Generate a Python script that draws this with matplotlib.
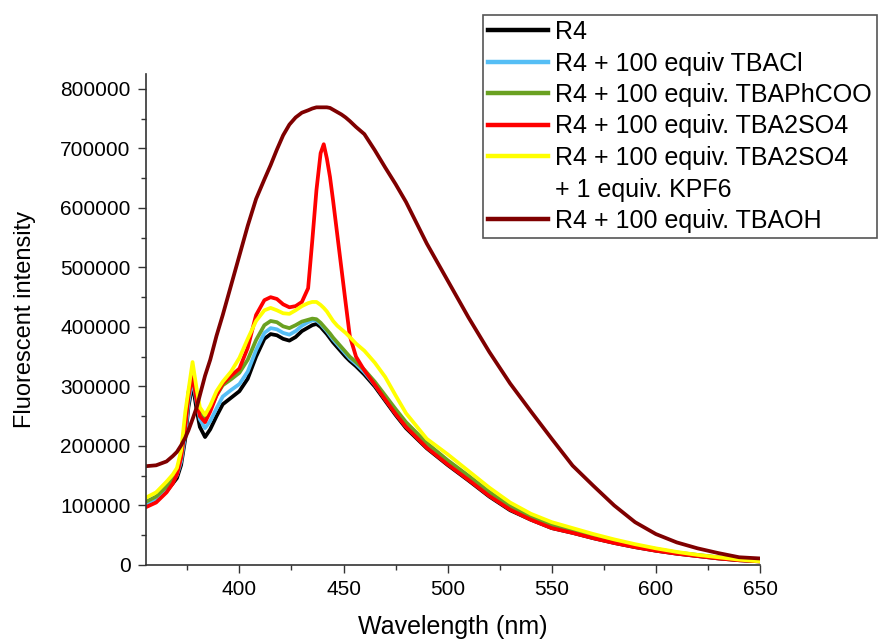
import matplotlib
matplotlib.use("Agg")
import matplotlib.pyplot as plt
from matplotlib.lines import Line2D
from matplotlib.ticker import MultipleLocator

plt.rcParams['font.family'] = ['Liberation Sans', 'DejaVu Sans']

wavelength = [355, 360, 365, 368, 370, 372, 374, 375.5, 377.5, 379.5,
              381, 383.5, 386, 389, 392, 396, 400, 404, 408, 412,
              415, 418, 421, 424, 427, 430, 433, 435, 437, 439,
              440.5, 442, 443.5, 445, 447, 449, 451, 453, 456, 460,
              465, 470, 475, 480, 490, 500, 510, 520, 530, 540,
              550, 560, 570, 580, 590, 600, 610, 620, 630, 640, 650]

r4 = [98000, 107000, 124000, 137000, 146000, 168000, 212000, 265000, 305000, 260000,
      232000, 215000, 228000, 250000, 270000, 281000, 292000, 313000, 350000, 380000,
      388000, 386000, 380000, 377000, 383000, 393000, 399000, 403000, 405000, 400000,
      394000, 388000, 381000, 374000, 366000, 358000, 350000, 343000, 334000, 320000,
      300000, 276000, 252000, 230000, 196000, 168000, 142000, 115000, 92000, 76000,
      62000, 54000, 45000, 37000, 30000, 24000, 19000, 15000, 11000, 8000, 6000]

tbacl = [103000, 111000, 128000, 141000, 151000, 174000, 220000, 272000, 313000, 272000,
         245000, 230000, 242000, 263000, 283000, 294000, 304000, 325000, 361000, 390000,
         398000, 396000, 390000, 387000, 393000, 402000, 408000, 411000, 411000, 405000,
         399000, 393000, 386000, 379000, 371000, 363000, 355000, 347000, 338000, 324000,
         303000, 279000, 255000, 233000, 199000, 171000, 145000, 117000, 94000, 77000,
         63000, 55000, 46000, 38000, 31000, 25000, 20000, 16000, 12000, 9000, 7000]

tbaphcoo = [106000, 115000, 132000, 146000, 158000, 185000, 240000, 290000, 322000, 285000,
            258000, 248000, 262000, 285000, 302000, 312000, 323000, 345000, 378000, 403000,
            410000, 408000, 401000, 398000, 403000, 409000, 412000, 414000, 413000, 407000,
            401000, 395000, 389000, 382000, 374000, 366000, 358000, 350000, 341000, 328000,
            308000, 285000, 262000, 240000, 205000, 176000, 150000, 123000, 99000, 81000,
            67000, 58000, 48000, 40000, 33000, 27000, 21000, 17000, 13000, 9000, 7000]

tba2so4 = [97000, 105000, 122000, 137000, 152000, 180000, 232000, 282000, 318000, 275000,
           250000, 240000, 258000, 285000, 305000, 318000, 330000, 365000, 420000, 445000,
           450000, 447000, 438000, 433000, 435000, 442000, 465000, 545000, 630000, 692000,
           707000, 683000, 652000, 612000, 555000, 498000, 441000, 385000, 350000, 327000,
           303000, 278000, 254000, 232000, 197000, 169000, 143000, 116000, 93000, 76000,
           62000, 54000, 45000, 37000, 30000, 24000, 19000, 15000, 11000, 8000, 6000]

tba2so4_kpf6 = [113000, 122000, 140000, 152000, 163000, 192000, 257000, 293000, 341000, 295000,
                265000, 252000, 268000, 292000, 308000, 325000, 348000, 380000, 410000, 428000,
                432000, 428000, 423000, 422000, 428000, 435000, 440000, 442000, 442000, 437000,
                432000, 426000, 418000, 410000, 402000, 396000, 390000, 383000, 372000, 360000,
                340000, 316000, 285000, 255000, 212000, 186000, 158000, 130000, 105000, 86000,
                72000, 62000, 52000, 43000, 35000, 28000, 22000, 17000, 13000, 9000, 6000]

tbaoh = [166000, 167500, 174000, 183000, 190000, 201000, 214000, 226000, 245000, 265000,
         285000, 318000, 345000, 385000, 420000, 470000, 520000, 570000, 615000, 648000,
         672000, 698000, 722000, 740000, 752000, 760000, 764000, 767000, 769000, 769000,
         769000, 769000, 768000, 765000, 761000, 757000, 752000, 746000, 736000, 724000,
         697000, 668000, 640000, 610000, 540000, 478000, 416000, 358000, 305000, 258000,
         212000, 167000, 133000, 100000, 72000, 52000, 38000, 28000, 20000, 13000, 11000]

labels = ["R4", "R4 + 100 equiv TBACl", "R4 + 100 equiv. TBAPhCOO",
          "R4 + 100 equiv. TBA2SO4", "R4 + 100 equiv. TBA2SO4",
          "+ 1 equiv. KPF6", "R4 + 100 equiv. TBAOH"]
colors = ["#000000", "#55BEF5", "#6AA121", "#FF0000", "#FFFF00", "#7F0000"]

fig = plt.figure(figsize=(8.84, 6.44), dpi=100)
ax = fig.add_axes([145.7 / 884, 1 - 565 / 644, (760 - 145.7) / 884, (565 - 74) / 644])

series = [r4, tbacl, tbaphcoo, tba2so4, tba2so4_kpf6, tbaoh]
handles = []
for s, c in zip(series, colors):
    ln, = ax.plot(wavelength, s, color=c, lw=2.7, solid_joinstyle='round')
    handles.append(ln)

ax.set_xlim(355, 650)
ax.set_ylim(0, 825000)
ax.xaxis.set_major_locator(MultipleLocator(50))
ax.xaxis.set_minor_locator(MultipleLocator(25))
ax.yaxis.set_major_locator(MultipleLocator(100000))
ax.yaxis.set_minor_locator(MultipleLocator(50000))
for sp in ['top', 'right']:
    ax.spines[sp].set_visible(False)
for sp in ['left', 'bottom']:
    ax.spines[sp].set_color('#333333')
    ax.spines[sp].set_linewidth(1.2)
ax.tick_params(which='major', direction='out', length=6, width=1, color='#333333',
               labelsize=15, pad=5)
ax.tick_params(which='minor', direction='out', length=3.5, width=1, color='#333333')
ax.set_xlabel("Wavelength (nm)", fontsize=18, labelpad=11)
ax.set_ylabel("Fluorescent intensity", fontsize=17, labelpad=17)

blank = Line2D([], [], color='none')
leg_handles = handles[:5] + [blank] + [handles[5]]
leg = fig.legend(leg_handles, labels, loc='upper left',
                 bbox_to_anchor=(483 / 884, 1 - 15 / 644),
                 bbox_transform=fig.transFigure,
                 fontsize=18, frameon=True, fancybox=False, framealpha=1,
                 edgecolor='#555555', borderpad=0.2, labelspacing=0.3,
                 handlelength=2.4, handletextpad=0.3, borderaxespad=0)
leg.get_frame().set_linewidth(1.2)
for lh in leg.get_lines():
    lh.set_linewidth(3.2)

fig.savefig("out.png", dpi=100)
